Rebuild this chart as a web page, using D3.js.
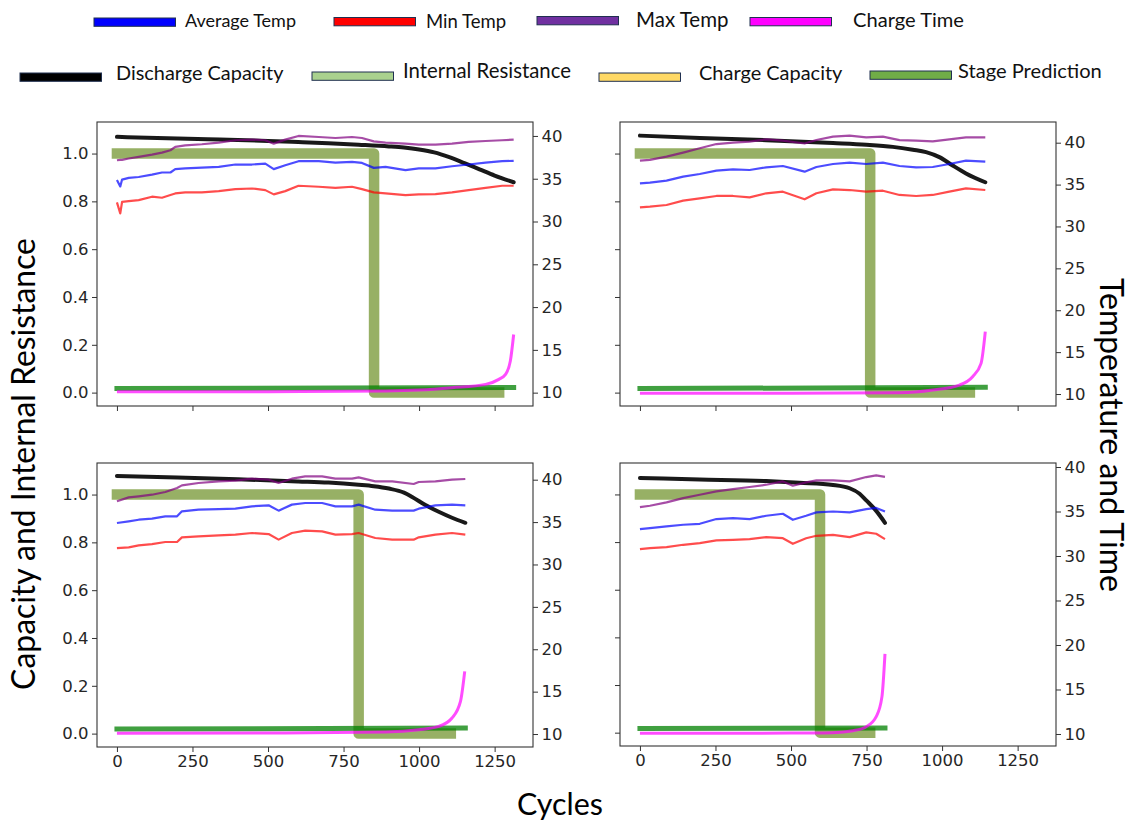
<!DOCTYPE html>
<html>
<head>
<meta charset="utf-8">
<script src="https://cdn.jsdelivr.net/npm/d3@7/dist/d3.min.js"></script>
<style>
  body { margin: 0; background: #fff; }
  svg { display: block; }
</style>
</head>
<body>
<svg id="chart" width="1133" height="821"></svg>
<script>
// ---------- data ----------
// A = top left, B = top right, C = bottom left, D = bottom right

// panel A
var tempCyclesA = [0, 11, 17, 39, 72, 116, 149, 177, 193, 226, 281, 337, 392, 447, 491, 519, 557, 601, 668, 723, 778, 811, 850, 889, 955, 999, 1054, 1109, 1164, 1220, 1275, 1313];
var avgTempA = [34.84, 34.1, 34.9, 35.1, 35.2, 35.48, 35.73, 35.73, 36.12, 36.2, 36.3, 36.39, 36.66, 36.66, 36.77, 36.12, 36.58, 37.05, 37.05, 36.89, 36.97, 36.85, 36.27, 36.39, 36.0, 36.2, 36.2, 36.46, 36.66, 36.89, 37.05, 37.09];
var minTempA = [32.24, 30.95, 32.3, 32.39, 32.5, 32.9, 32.78, 33.09, 33.28, 33.4, 33.4, 33.55, 33.79, 33.86, 33.67, 33.17, 33.55, 34.18, 34.06, 33.94, 34.06, 33.79, 33.4, 33.28, 33.09, 33.17, 33.2, 33.4, 33.67, 33.94, 34.18, 34.18];
var maxTempA = [37.16, 37.2, 37.2, 37.36, 37.55, 37.82, 38.05, 38.33, 38.72, 38.9, 39.03, 39.22, 39.5, 39.57, 39.5, 39.1, 39.57, 40.0, 39.88, 39.76, 39.88, 39.76, 39.37, 39.22, 39.1, 38.99, 38.99, 39.1, 39.3, 39.41, 39.5, 39.57];
var capCyclesA = [0, 100, 200, 300, 400, 500, 600, 700, 800, 900, 950, 1000, 1050, 1100, 1150, 1200, 1250, 1313];
var dischargeA = [1.070, 1.066, 1.063, 1.060, 1.057, 1.053, 1.048, 1.043, 1.037, 1.030, 1.025, 1.017, 1.005, 0.985, 0.960, 0.934, 0.908, 0.880];
var timeCyclesA = [0, 500, 889, 999, 1109, 1220, 1264, 1286, 1302, 1313];
var chargeTimeA = [10.1, 10.12, 10.2, 10.31, 10.58, 10.97, 11.55, 12.13, 13.7, 16.8];
var resCyclesA = [0, 1313];
var resistanceA = [0.017, 0.021];
var stageCyclesA = [0, 851, 1265];
var stageA = [1, 0, 0];

// panel B
var tempCyclesB = [0, 33, 88, 143, 198, 253, 308, 363, 418, 473, 545, 584, 639, 694, 749, 804, 859, 914, 969, 1024, 1079, 1143];
var avgTempB = [35.15, 35.23, 35.47, 35.95, 36.26, 36.66, 36.82, 36.74, 37.06, 37.22, 36.54, 37.1, 37.46, 37.62, 37.46, 37.62, 37.22, 37.06, 37.1, 37.46, 37.86, 37.74];
var minTempB = [32.28, 32.36, 32.56, 33.08, 33.36, 33.64, 33.64, 33.48, 33.96, 34.15, 33.24, 33.96, 34.43, 34.35, 34.15, 34.27, 33.76, 33.64, 33.76, 34.15, 34.55, 34.35];
var maxTempB = [37.86, 37.94, 38.33, 38.81, 39.33, 39.84, 40.0, 40.12, 40.4, 40.24, 39.9, 40.32, 40.72, 40.85, 40.64, 40.72, 40.3, 40.24, 40.15, 40.4, 40.64, 40.64];
var capCyclesB = [0, 198, 418, 639, 749, 837, 903, 947, 991, 1035, 1079, 1143];
var dischargeB = [1.075, 1.065, 1.056, 1.044, 1.037, 1.028, 1.016, 1.006, 0.985, 0.95, 0.917, 0.880];
var timeCyclesB = [0, 500, 859, 969, 1057, 1101, 1129, 1143];
var chargeTimeB = [10.08, 10.1, 10.16, 10.48, 11.07, 12.07, 13.66, 17.44];
var resCyclesB = [0, 1143];
var resistanceB = [0.017, 0.022];
var stageCyclesB = [0, 762, 1092];
var stageB = [1, 0, 0];

// panel C
var tempCyclesC = [0, 39, 72, 116, 160, 199, 215, 270, 337, 392, 447, 502, 535, 579, 623, 679, 723, 778, 800, 855, 911, 982, 999, 1054, 1109, 1153];
var avgTempC = [34.89, 35.09, 35.28, 35.4, 35.68, 35.68, 36.27, 36.46, 36.54, 36.58, 36.86, 36.98, 36.35, 37.06, 37.25, 37.25, 36.86, 36.86, 37.06, 36.46, 36.35, 36.35, 36.58, 36.98, 37.06, 36.98];
var minTempC = [31.94, 32.02, 32.26, 32.41, 32.65, 32.65, 33.2, 33.32, 33.44, 33.52, 33.71, 33.59, 32.93, 33.71, 33.99, 33.91, 33.52, 33.59, 33.71, 33.12, 32.93, 32.93, 33.2, 33.52, 33.71, 33.52];
var maxTempC = [37.45, 37.92, 38.04, 38.23, 38.55, 39.02, 39.33, 39.61, 39.81, 39.89, 40.12, 40.0, 39.61, 40.12, 40.4, 40.4, 40.12, 40.12, 40.28, 39.81, 39.81, 39.49, 39.73, 39.81, 40.0, 40.08];
var capCyclesC = [0, 200, 400, 600, 700, 800, 850, 900, 950, 977, 1021, 1065, 1109, 1153];
var dischargeC = [1.078, 1.071, 1.064, 1.055, 1.05, 1.041, 1.035, 1.025, 1.008, 0.99, 0.956, 0.928, 0.903, 0.882];
var timeCyclesC = [0, 500, 889, 999, 1065, 1109, 1137, 1151];
var chargeTimeC = [10.1, 10.12, 10.24, 10.51, 10.9, 11.89, 13.85, 17.39];
var resCyclesC = [0, 1153];
var resistanceC = [0.019, 0.023];
var stageCyclesC = [0, 800, 1105];
var stageC = [1, 0, 0];

// panel D
var tempCyclesD = [0, 33, 88, 143, 198, 253, 308, 363, 418, 473, 506, 550, 584, 639, 694, 749, 782, 811];
var avgTempD = [33.02, 33.13, 33.32, 33.51, 33.62, 34.15, 34.26, 34.15, 34.52, 34.75, 34.07, 34.52, 34.9, 35.0, 34.9, 35.27, 35.4, 35.0];
var minTempD = [30.77, 30.88, 31.0, 31.26, 31.45, 31.75, 31.82, 31.9, 32.12, 32.0, 31.37, 32.0, 32.27, 32.38, 32.12, 32.65, 32.5, 31.9];
var maxTempD = [35.5, 35.65, 36.02, 36.51, 36.88, 37.26, 37.52, 37.75, 38.01, 38.38, 37.9, 38.27, 38.5, 38.5, 38.38, 38.87, 39.05, 38.9];
var capCyclesD = [0, 198, 418, 528, 639, 694, 727, 749, 782, 811];
var dischargeD = [1.069, 1.063, 1.056, 1.049, 1.040, 1.026, 1.003, 0.975, 0.931, 0.881];
var timeCyclesD = [0, 500, 639, 705, 749, 782, 801, 811];
var chargeTimeD = [10.08, 10.1, 10.15, 10.37, 10.82, 11.95, 14.2, 19.0];
var resCyclesD = [0, 811];
var resistanceD = [0.017, 0.02];
var stageCyclesD = [0, 596, 762];
var stageD = [1, 0, 0];

// axes
var cycleTicks = [0, 250, 500, 750, 1000, 1250];
var capacityTicks = [0.0, 0.2, 0.4, 0.6, 0.8, 1.0];
var tempTicks = [10, 15, 20, 25, 30, 35, 40];

// legend
var legendLabels = ["Average Temp", "Min Temp", "Max Temp", "Charge Time",
                    "Discharge Capacity", "Internal Resistance", "Charge Capacity", "Stage Prediction"];
var legendColors = ["#0000ff", "#ff0000", "#7030a0", "#ff00ff",
                    "#000000", "#a9d18e", "#ffd966", "#70ad47"];

// ---------- layout ----------
var W = 1133, H = 821;
var labelFont = "Lato, 'Open Sans', sans-serif";
var tickFont = "'DejaVu Sans', sans-serif";

var svg = d3.select("#chart");
svg.append("rect").attr("width", W).attr("height", H).attr("fill", "#fff");

var zip = function (xs, ys) { return xs.map(function (x, i) { return [x, ys[i]]; }); };

var fitText = function (sel, width) {
    var len = sel.node().getComputedTextLength();
    var fs = parseFloat(sel.attr("font-size"));
    sel.attr("font-size", (fs * width / len).toFixed(2));
};

var panels = [
    { x0: 97, x1: 533, y0: 122, y1: 406, right: [8.44, 41.63], xLabels: false, leftLabels: true,
      temps: tempCyclesA, avg: avgTempA, min: minTempA, max: maxTempA,
      cap: zip(capCyclesA, dischargeA), time: zip(timeCyclesA, chargeTimeA),
      res: zip(resCyclesA, resistanceA), stage: zip(stageCyclesA, stageA) },
    { x0: 620, x1: 1056, y0: 122, y1: 406, right: [8.57, 42.47], xLabels: false, leftLabels: false,
      temps: tempCyclesB, avg: avgTempB, min: minTempB, max: maxTempB,
      cap: zip(capCyclesB, dischargeB), time: zip(timeCyclesB, chargeTimeB),
      res: zip(resCyclesB, resistanceB), stage: zip(stageCyclesB, stageB) },
    { x0: 97, x1: 533, y0: 463, y1: 747, right: [8.47, 41.97], xLabels: true, leftLabels: true,
      temps: tempCyclesC, avg: avgTempC, min: minTempC, max: maxTempC,
      cap: zip(capCyclesC, dischargeC), time: zip(timeCyclesC, chargeTimeC),
      res: zip(resCyclesC, resistanceC), stage: zip(stageCyclesC, stageC) },
    { x0: 620, x1: 1056, y0: 463, y1: 746, right: [8.65, 40.45], xLabels: true, leftLabels: false,
      temps: tempCyclesD, avg: avgTempD, min: minTempD, max: maxTempD,
      cap: zip(capCyclesD, dischargeD), time: zip(timeCyclesD, chargeTimeD),
      res: zip(resCyclesD, resistanceD), stage: zip(stageCyclesD, stageD) }
];

panels.forEach(function (p) {
    var x = d3.scaleLinear().domain([-66, 1377]).range([p.x0, p.x1]);
    var yL = d3.scaleLinear().domain([-0.056, 1.132]).range([p.y1, p.y0]);
    var yR = d3.scaleLinear().domain(p.right).range([p.y1, p.y0]);
    var g = svg.append("g");

    var lineL = d3.line().x(function (d) { return x(d[0]); }).y(function (d) { return yL(d[1]); });
    var lineR = d3.line().x(function (d) { return x(d[0]); }).y(function (d) { return yR(d[1]); });

    // left axis series
    g.append("path").attr("d", lineL.curve(d3.curveStepAfter)(p.stage))
        .attr("fill", "none").attr("stroke", "#6b8e23").attr("stroke-opacity", 0.7)
        .attr("stroke-width", 10.5).attr("stroke-linecap", "square").attr("stroke-linejoin", "round");
    g.append("path").attr("d", lineL.curve(d3.curveLinear)(p.res))
        .attr("fill", "none").attr("stroke", "#008000").attr("stroke-opacity", 0.75)
        .attr("stroke-width", 5).attr("stroke-linecap", "square");
    g.append("path").attr("d", lineL.curve(d3.curveMonotoneX)(p.cap))
        .attr("fill", "none").attr("stroke", "#000").attr("stroke-opacity", 0.9)
        .attr("stroke-width", 4).attr("stroke-linecap", "round");

    // right axis series (twin axis drawn on top)
    [[p.max, "#800080"], [p.avg, "#0000ff"], [p.min, "#ff0000"]].forEach(function (s) {
        g.append("path").attr("d", lineR.curve(d3.curveLinear)(zip(p.temps, s[0])))
            .attr("fill", "none").attr("stroke", s[1]).attr("stroke-opacity", 0.7)
            .attr("stroke-width", 2.2).attr("stroke-linejoin", "round");
    });
    g.append("path").attr("d", lineR.curve(d3.curveMonotoneX)(p.time))
        .attr("fill", "none").attr("stroke", "#ff00ff").attr("stroke-opacity", 0.7)
        .attr("stroke-width", 3);

    // axes
    var axB = d3.axisBottom(x).tickValues(cycleTicks).tickSize(5).tickPadding(3.5).tickFormat(d3.format("d"));
    if (!p.xLabels) axB.tickFormat("");
    var axL = d3.axisLeft(yL).tickValues(capacityTicks).tickSize(5).tickPadding(3.5).tickFormat(d3.format(".1f"));
    if (!p.leftLabels) axL.tickFormat("");
    var axR = d3.axisRight(yR).tickValues(tempTicks).tickSize(5).tickPadding(3.5).tickFormat(d3.format("d"));

    [[axB, "translate(0," + p.y1 + ")"], [axL, "translate(" + p.x0 + ",0)"], [axR, "translate(" + p.x1 + ",0)"]]
        .forEach(function (a) {
            var ag = g.append("g").attr("transform", a[1]).call(a[0]);
            ag.select(".domain").remove();
            ag.selectAll("line").attr("stroke", "#333").attr("stroke-width", 1);
            ag.selectAll("text").attr("font-family", tickFont).attr("font-size", 16.5).attr("fill", "#262626");
        });

    g.append("rect").attr("x", p.x0).attr("y", p.y0)
        .attr("width", p.x1 - p.x0).attr("height", p.y1 - p.y0)
        .attr("fill", "none").attr("stroke", "#333").attr("stroke-width", 1.1);
});

// ---------- legend ----------
var legendBoxes = [
    { sx: 94, sy: 18, tx: 185, ty: 26.5, tw: 111 },
    { sx: 334, sy: 17.5, tx: 426, ty: 27.5, tw: 80 },
    { sx: 537, sy: 16.5, tx: 636, ty: 27, tw: 92.5 },
    { sx: 750, sy: 17.5, tx: 853, ty: 27, tw: 111 },
    { sx: 20, sy: 73, tx: 116, ty: 80, tw: 167.5 },
    { sx: 312, sy: 72, tx: 403, ty: 77.5, tw: 168 },
    { sx: 599, sy: 73, tx: 699, ty: 80, tw: 143.5 },
    { sx: 870, sy: 71, tx: 958, ty: 77.5, tw: 144 }
];
var legend = svg.append("g");
legendLabels.forEach(function (name, i) {
    var b = legendBoxes[i];
    legend.append("rect").attr("x", b.sx).attr("y", b.sy).attr("width", 81.5).attr("height", 8.3)
        .attr("fill", legendColors[i]).attr("stroke", "#203050").attr("stroke-width", 1);
    var t = legend.append("text").attr("x", b.tx).attr("y", b.ty)
        .attr("font-family", labelFont).attr("font-size", 19).attr("fill", "#111").text(name);
    fitText(t, b.tw);
});

// ---------- axis titles ----------
var tLeft = svg.append("text")
    .attr("transform", "translate(35,464) rotate(-90)")
    .attr("text-anchor", "middle").attr("font-family", labelFont).attr("font-size", 32)
    .attr("fill", "#000").text("Capacity and Internal Resistance");
fitText(tLeft, 452);

var tRight = svg.append("text")
    .attr("transform", "translate(1100,435) rotate(90)")
    .attr("text-anchor", "middle").attr("font-family", labelFont).attr("font-size", 32)
    .attr("fill", "#000").text("Temperature and Time");
fitText(tRight, 314);

var tBottom = svg.append("text")
    .attr("x", 560).attr("y", 815)
    .attr("text-anchor", "middle").attr("font-family", labelFont).attr("font-size", 32)
    .attr("fill", "#000").text("Cycles");
fitText(tBottom, 86);
</script>
</body>
</html>
